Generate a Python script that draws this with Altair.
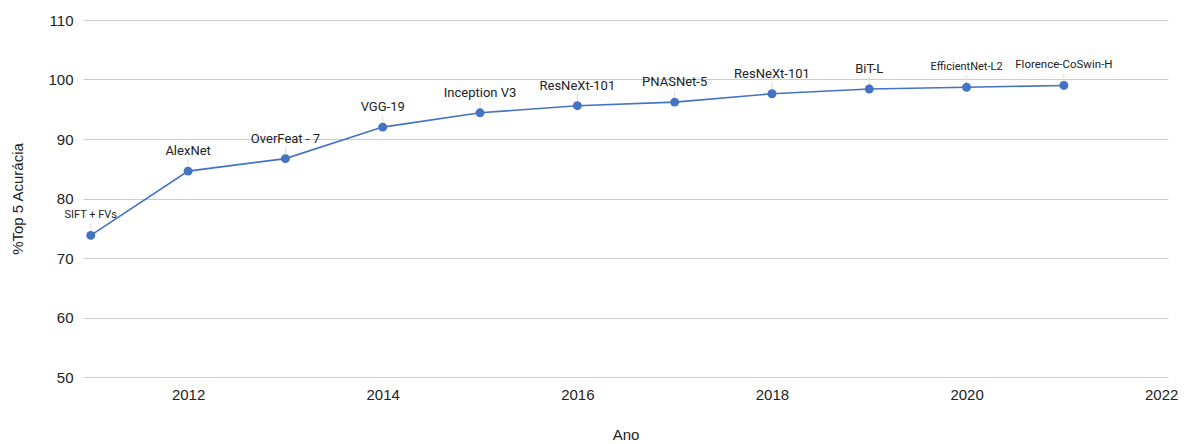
import altair as alt
import pandas as pd

# ImageNet top-5 accuracy by year, with the model behind each point
years = [2011, 2012, 2013, 2014, 2015, 2016, 2017, 2018, 2019, 2020, 2021]
accuracy = [73.8, 84.6, 86.7, 92.0, 94.4, 95.6, 96.2, 97.6, 98.4, 98.7, 99.0]
models = ["SIFT + FVs", "AlexNet", "OverFeat - 7", "VGG-19", "Inception V3",
          "ResNeXt-101", "PNASNet-5", "ResNeXt-101", "BiT-L",
          "EfficientNet-L2", "Florence-CoSwin-H"]
label_sizes = [11, 13, 13, 13, 13, 13, 13, 13, 13, 11, 11.5]

df = pd.DataFrame({"ano": years, "acc": accuracy, "modelo": models, "fs": label_sizes})

LABEL_FONT = "Roboto"
AXIS_FONT = "Liberation Sans"
BLUE = "#4472C4"

x = alt.X("ano:Q", title="Ano",
          scale=alt.Scale(domain=[2010.92, 2022.07], nice=False, zero=False),
          axis=alt.Axis(values=[2012, 2014, 2016, 2018, 2020, 2022], format="d",
                        grid=False, domain=False, ticks=False, labelPadding=10,
                        titlePadding=25))
y = alt.Y("acc:Q", title="%Top 5 Acurácia",
          scale=alt.Scale(domain=[50, 110], nice=False, zero=False),
          axis=alt.Axis(values=[50, 60, 70, 80, 90, 100, 110], grid=True,
                        gridColor="#cccccc", domain=False, ticks=False,
                        labelPadding=10, titlePadding=22))

base = alt.Chart(df)

leaders = base.mark_rule(color="#dddddd", strokeWidth=1, y2Offset=-12).encode(
    x="ano:Q", y=alt.Y("acc:Q"), y2="acc:Q")

line = base.mark_line(color=BLUE, strokeWidth=1.6).encode(x=x, y=y)

points = base.mark_circle(color=BLUE, size=80, opacity=1).encode(x="ano:Q", y="acc:Q")

labels = base.mark_text(font=LABEL_FONT, color="#222222", dy=-20, baseline="middle").encode(
    x="ano:Q", y="acc:Q", text="modelo:N",
    size=alt.Size("fs:Q", scale=None, legend=None))

chart = alt.layer(line, leaders, points, labels).properties(
    width=1085, height=357,
    autosize=alt.AutoSizeParams(type="none"),
    padding={"left": 83, "top": 20, "right": 19, "bottom": 67},
    background="white",
).configure_view(stroke=None).configure_axis(
    labelFont=AXIS_FONT, titleFont=AXIS_FONT, labelFontSize=15, titleFontSize=15,
    labelColor="#222222", titleColor="#222222", titleFontWeight="normal",
)

chart.save("out.html", embed_options={"renderer": "svg", "actions": False})
